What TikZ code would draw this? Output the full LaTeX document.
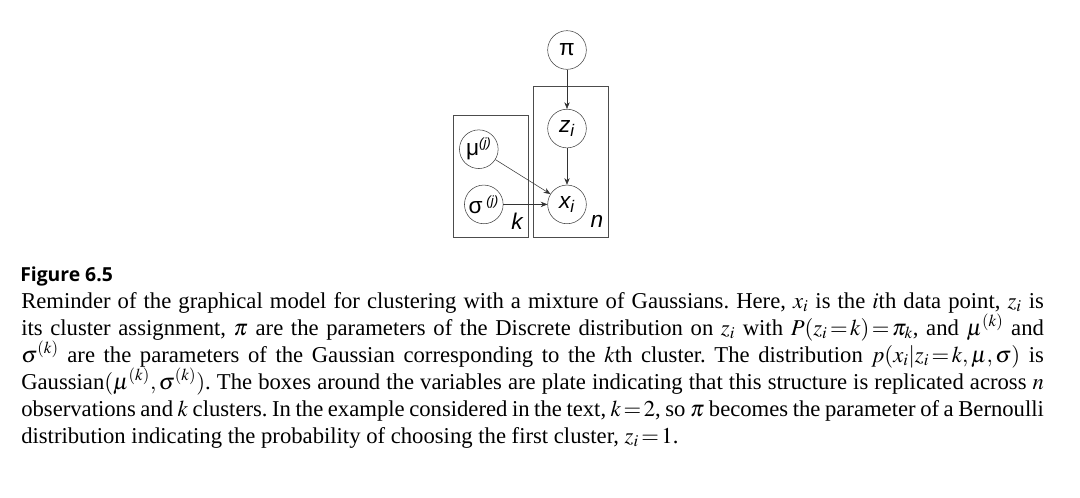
\documentclass[tikz,border=0pt]{standalone}
\usepackage{mathptmx}
\usepackage{fontspec}
\setmainfont{Liberation Serif}
\newfontfamily\headfont{Open Sans}
\newfontfamily\nodefont{Liberation Sans}
\usetikzlibrary{positioning,arrows.meta}

\newcommand{\plateidx}[1]{\textsuperscript{\itshape\fontsize{10}{10}\selectfont #1}}

\tikzset{
  latent/.style={circle,draw=black!75,thin,minimum size=29pt,inner sep=0pt,
    font=\nodefont\fontsize{17}{17}\selectfont},
  plate/.style={draw=black!70,thin},
  platelabel/.style={inner sep=0pt,font=\nodefont\itshape\fontsize{17}{17}\selectfont},
}

\begin{document}
\begin{tikzpicture}[x=0.75pt,y=-0.75pt,>={Stealth[length=5pt,width=4pt]},node distance=29.5pt]
\useasboundingbox (0,0) rectangle (1080,497);
% graphical model
\node[latent] (pi) at (567,50) {π};
\node[latent] (zi) [below=of pi] {\itshape z\textsubscript{i}};
\node[latent] (xi) [below=27.5pt of zi] {\itshape x\textsubscript{i}};
\node[latent] (sigma) [left=33pt of xi] {σ\,\plateidx{(j)}};
\node[latent] (mu) [above=12pt of sigma,xshift=-3.75pt] {μ\plateidx{(j)}};
% plates
\draw[plate] (453,115) rectangle (528,237);
\draw[plate] (533,86) rectangle (608,237);
\node[platelabel] (k) at (517,221) {k};
\node[platelabel] (n) at (597,221) {n};
\draw[->,black!80] (pi) -- (zi);
\draw[->,black!80] (zi) -- (xi);
\draw[->,black!80] (mu) -- (xi);
\draw[->,black!80] (sigma) -- (xi);
% caption
\node[anchor=base west,inner sep=0pt,font=\headfont\bfseries\fontsize{14.5}{17}\selectfont] (title) at (20,281) {Figure 6.5};
\node[anchor=base west,inner sep=0pt,text width=767pt,align=justify,
  font=\fontsize{17}{20.25}\selectfont\frenchspacing] (caption) at (21,308) {%
Reminder of the graphical model for clustering with a mixture of Gaussians. Here, $x_i$ is the $i$th data point, $z_i$ is\linebreak
its cluster assignment, $\pi$ are the parameters of the Discrete distribution on $z_i$ with $P(z_i\,{=}\,k)\,{=}\,\pi_k$, and $\mu^{(k)}$ and\linebreak
$\sigma^{(k)}$ are the parameters of the Gaussian corresponding to the $k$th cluster. The distribution $p(x_i|z_i\,{=}\,k,\mu,\sigma)$ is\linebreak
Gaussian$(\mu^{(k)},\sigma^{(k)})$. The boxes around the variables are plate indicating that this structure is replicated across $n$\linebreak
observations and $k$ clusters. In the example considered in the text, $k\,{=}\,2$, so $\pi$ becomes the parameter of a Bernoulli\linebreak
distribution indicating the probability of choosing the first cluster, $z_i\,{=}\,1$.};
\end{tikzpicture}
\end{document}
